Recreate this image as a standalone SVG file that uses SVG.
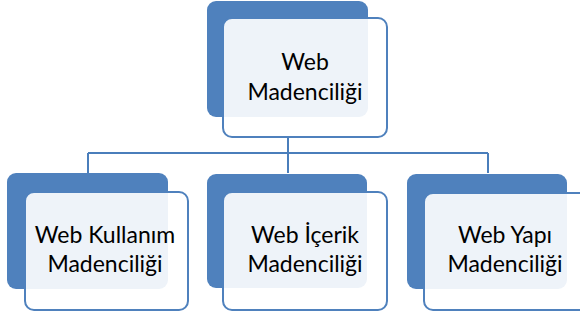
<svg xmlns="http://www.w3.org/2000/svg" width="580" height="320" viewBox="0 0 580 320">
<style>
.back{fill:#4F81BD;}
.front{fill:#ffffff;fill-opacity:0.9;stroke:#4F81BD;stroke-width:2;}
.lbl{font-family:Lato,"Liberation Sans",sans-serif;font-size:23px;fill:#000;text-anchor:middle;}
.conn{fill:none;stroke:#4A7EBB;stroke-width:2;}
</style>
<rect width="580" height="320" fill="#ffffff"/>
<g id="connectors">
<path class="conn" d="M288 137V153M88 153H488M88 153V173M288 153V173M488 153V173"/>
</g>
<g id="node-root">
<rect class="back" x="207" y="1" width="161" height="116" rx="9"/>
<rect class="front" x="223" y="18" width="164" height="119" rx="9"/>
<text class="lbl" x="305" y="70">Web</text>
<text class="lbl" x="305" y="100">Madenciliği</text>
</g>
<g id="node-kullanim">
<rect class="back" x="7" y="173" width="161" height="116" rx="9"/>
<rect class="front" x="25" y="192" width="163" height="118" rx="9"/>
<text class="lbl" x="105" y="243">Web Kullanım</text>
<text class="lbl" x="105" y="272">Madenciliği</text>
</g>
<g id="node-icerik">
<rect class="back" x="207" y="174" width="160" height="114" rx="9"/>
<rect class="front" x="223" y="192" width="164" height="118" rx="9"/>
<text class="lbl" x="305" y="243">Web İçerik</text>
<text class="lbl" x="305" y="272">Madenciliği</text>
</g>
<g id="node-yapi">
<rect class="back" x="407" y="174" width="160" height="115" rx="9"/>
<rect class="front" x="424" y="193" width="164" height="117" rx="9"/>
<text class="lbl" x="505" y="243">Web Yapı</text>
<text class="lbl" x="505" y="272">Madenciliği</text>
</g>
</svg>
